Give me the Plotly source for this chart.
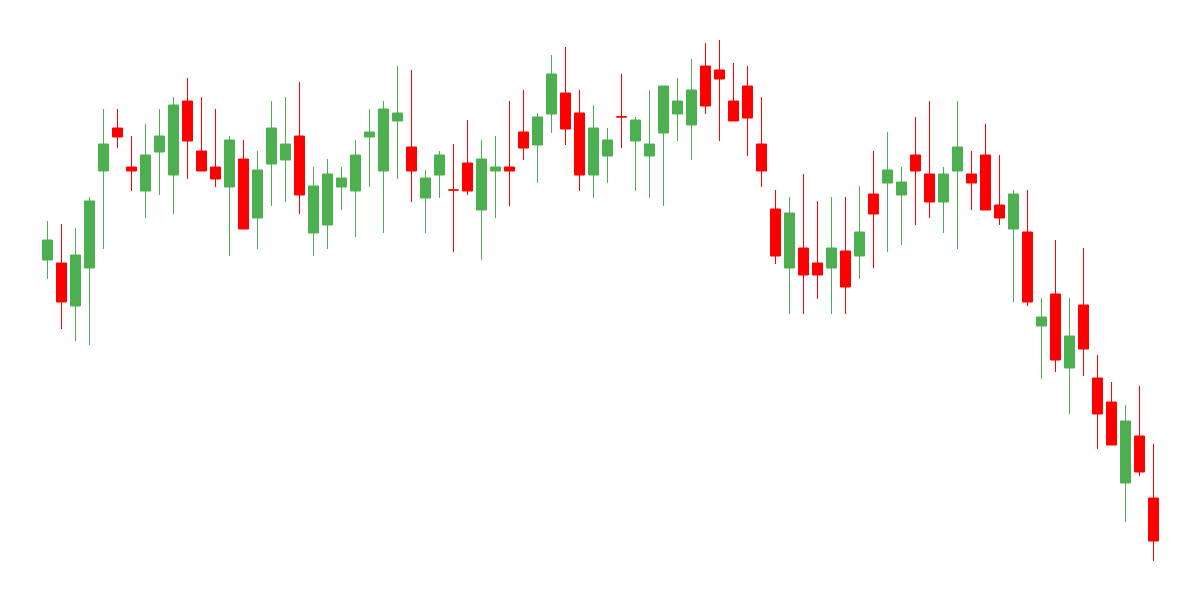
import plotly.graph_objects as go

idx = list(range(80))

open_ = [340,337,294,332,429,472,433,409,448,425, 499,449,433,413,441,382,436,440,464,367,
         375,413,409,463,429,479,453,402,425,410, 437,390,429,433,468,455,486,507,487,425,
         444,483.3,459,444,467,486,475,534,530,499, 514,456,391,332,352,337,332,349,344,406,
         417,405,445,426,398,429,426,445,395,371, 368,274,306,232,295,222,198,117,164,102]
close = [360,298,345,399,456,463,429,445,464,495, 459,429,421,460,371,430,472,456,405,414,
         426,422,445,468,491,487,429,422,445,410, 409,441,433,429,452,483,526,471,425,472,
         460,483,480,456,514,499,510,494,521,479, 482,429,344,387,325,325,352,313,368,386,
         430,418,429,398,426,453,417,390,382,406, 298,283,240,264,251,186,155,179,128,59]
high = [379,376,372,403,491,491,464,476,491,503, 522,503,491,464,460,449,499,503,518,433,
        441,433,460,491,499,534,530,430,449,456, 480,460,464,499,510,487,545,553,510,495,
        472,526,483,510,514,522,541,557,560,537, 534,503,410,403,426,399,403,403,414,449,
        468,433,483,499,433,499,449,476,445,410, 410,302,360,302,352,245,218,195,214,156]
low = [321,271,259,255,351,452,409,382,405,386, 421,429,413,344,371,351,394,398,386,344,
       351,390,363,413,367,421,398,367,402,348, 405,340,382,394,440,417,467,455,409,402,
       417,452,409,402,394,459,440,486,459,479, 444,413,336,286,286,301,286,286,321,332,
       348,355,375,382,367,351,390,390,375,298, 294,221,228,186,224,151,155,78,124,39]

UP = "#4CAF50"
DOWN = "#FF0000"

fig = go.Figure(go.Candlestick(
    x=idx, open=open_, high=high, low=low, close=close,
    increasing=dict(line=dict(color=UP, width=1), fillcolor=UP),
    decreasing=dict(line=dict(color=DOWN, width=1), fillcolor=DOWN),
    whiskerwidth=0,
    hoverinfo="skip",
))

x0 = -39.5 / 14
fig.update_layout(
    width=1200, height=600,
    margin=dict(l=0, r=0, t=0, b=0),
    paper_bgcolor="white", plot_bgcolor="white",
    showlegend=False,
    boxgap=2/7, boxgroupgap=0,
    xaxis=dict(visible=False, range=[x0, x0 + 1200/14],
               rangeslider=dict(visible=False), fixedrange=True),
    yaxis=dict(visible=False, range=[-8, 592], fixedrange=True),
)

fig.write_html("out.html")
